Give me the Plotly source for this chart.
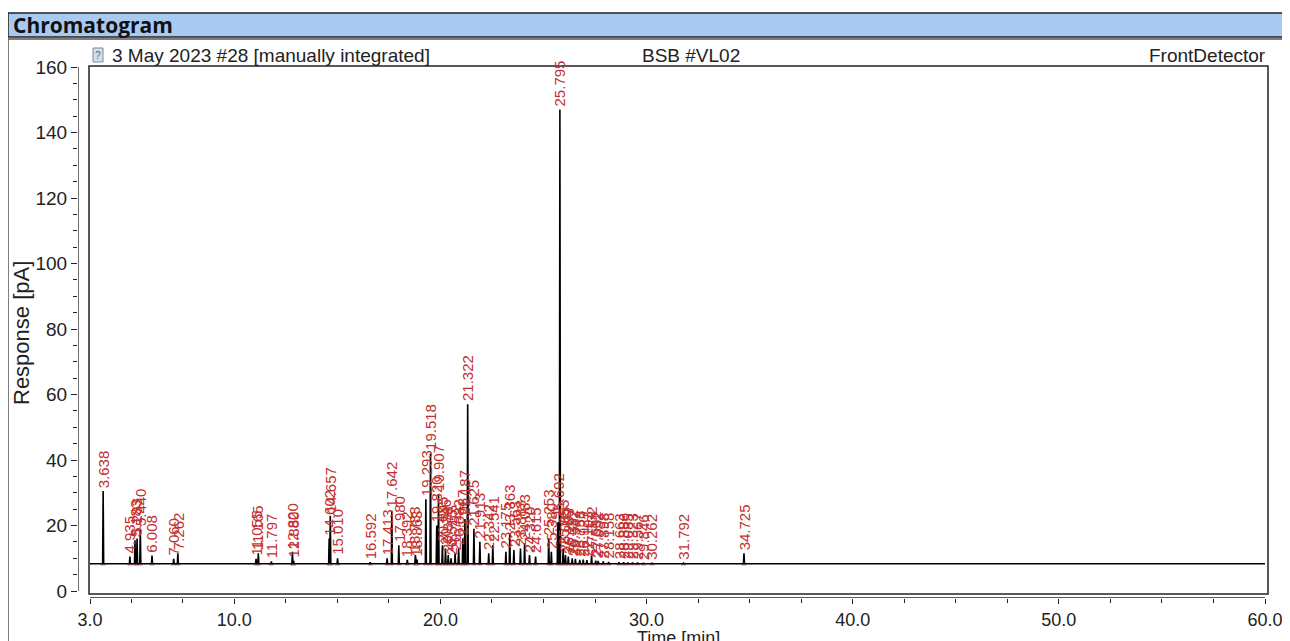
import plotly.graph_objects as go

# ---------------- data ----------------
peak_times = [3.638, 4.935, 5.183, 5.283, 5.440, 6.008, 7.060, 7.262,
              11.055, 11.165, 11.797, 12.820, 12.880, 14.602, 14.657, 15.010,
              16.592, 17.413, 17.642, 17.980, 18.392, 18.783, 18.863,
              19.293, 19.518, 19.820, 19.907, 20.095, 20.246, 20.378, 20.515,
              20.712, 20.882, 21.087, 21.187, 21.322, 21.625, 21.913,
              22.342, 22.541, 23.175, 23.363, 23.563, 23.883, 24.083, 24.320,
              24.615, 25.253, 25.380, 25.692, 25.795, 25.953, 26.065, 26.203,
              26.392, 26.547, 26.758, 26.927, 27.103, 27.332, 27.532, 27.652,
              27.898, 28.158, 28.663, 28.886, 29.085, 29.323, 29.567, 29.846,
              30.262, 31.792, 34.725]
peak_heights = [30.5, 10.5, 15.5, 16.0, 19.0, 10.8, 9.8, 11.5,
                9.8, 11.5, 9.0, 12.0, 9.2, 16.0, 23.0, 10.0,
                8.8, 10.0, 24.5, 14.0, 9.5, 11.0, 9.6,
                28.0, 42.0, 20.0, 29.5, 14.0, 13.0, 11.0, 10.0,
                11.5, 13.0, 16.0, 22.0, 57.0, 19.0, 15.0,
                11.5, 14.0, 12.0, 17.5, 12.5, 13.0, 14.5, 11.0,
                10.5, 16.0, 12.0, 21.0, 147.0, 13.0, 11.0, 10.5,
                10.0, 9.8, 9.5, 9.6, 9.4, 10.8, 9.3, 9.2,
                9.0, 8.9, 8.8, 8.8, 8.7, 8.7, 8.7, 8.6,
                8.6, 8.5, 11.5]
peak_labels = [f"{t:.3f}" for t in peak_times]
baseline_level = 8.3
time_start, time_end = 3.0, 60.0
resp_min, resp_max = 0.0, 160.0

x_tick_vals = [3.0, 10.0, 20.0, 30.0, 40.0, 50.0, 60.0]
x_tick_text = ["3.0", "10.0", "20.0", "30.0", "40.0", "50.0", "60.0"]
x_minor_vals = [5.0, 7.5, 12.5, 15.0, 17.5, 22.5, 25.0, 27.5, 32.5, 35.0, 37.5,
                42.5, 45.0, 47.5, 52.5, 55.0, 57.5]
y_tick_vals = [0, 20, 40, 60, 80, 100, 120, 140, 160]
y_minor_vals = [v for v in range(0, 161, 5) if v % 20 != 0]

header_left = "3 May 2023 #28 [manually integrated]"
header_mid = "BSB #VL02"
header_right = "FrontDetector"
panel_title = "Chromatogram"

# ---------------- build the signal from the peak table ----------------
W, H = 1290, 641
OFF = 8  # the page's default body margin shifts the figure by this much
half_w = 0.025
sig_x = [time_start]
sig_y = [baseline_level]
red_x, red_y = [], []
for t, h in zip(peak_times, peak_heights):
    sig_x += [t - half_w, t, t + half_w]
    sig_y += [baseline_level, h, baseline_level]
    red_x += [t - 0.12, t + 0.12, None]
    red_y += [baseline_level - 0.3, baseline_level - 0.3, None]
sig_x.append(time_end)
sig_y.append(baseline_level)

def px(xp):
    return (xp - OFF) / W

def py(yp):
    return 1 - (yp - OFF) / H

# page-pixel layout of the plotting box
X_AXIS_AT = 598      # pixel row of the time axis line
Y_AXIS_AT = 78       # pixel column of the response axis line
X3_AT, X60_AT = 90, 1265
Y0_AT, Y160_AT = 591, 67
ppm = (X60_AT - X3_AT) / (time_end - time_start)
ppp = (Y0_AT - Y160_AT) / (resp_max - resp_min)
x_lo = time_start - (X3_AT - Y_AXIS_AT) / ppm
y_lo = resp_min - (X_AXIS_AT - Y0_AT) / ppp

FONT = "Liberation Sans, Arial, sans-serif"
RED = "#c42f2f"
TXT = "#222"

fig = go.Figure()
fig.add_trace(go.Scatter(x=red_x, y=red_y, mode="lines",
                         line=dict(color="#e07070", width=1.2),
                         hoverinfo="skip", showlegend=False))
fig.add_trace(go.Scatter(x=sig_x, y=sig_y, mode="lines",
                         line=dict(color="black", width=1.6),
                         showlegend=False))

annotations = []
for t, h, lab in zip(peak_times, peak_heights, peak_labels):
    annotations.append(dict(x=t, y=h, xref="x", yref="y", text=lab,
                            textangle=-90, xanchor="center", yanchor="bottom",
                            yshift=1, showarrow=False,
                            font=dict(family=FONT, size=15, color=RED)))

annotations += [
    dict(x=px(11), y=py(25), xref="paper", yref="paper", text="<b>" + panel_title + "</b>",
         xanchor="left", yanchor="middle", showarrow=False,
         font=dict(family="Open Sans, sans-serif", size=21, color="#111")),
    dict(x=px(110), y=py(55), xref="paper", yref="paper", text=header_left,
         xanchor="left", yanchor="middle", showarrow=False,
         font=dict(family=FONT, size=19, color=TXT)),
    dict(x=px(691), y=py(55), xref="paper", yref="paper", text=header_mid,
         xanchor="center", yanchor="middle", showarrow=False,
         font=dict(family=FONT, size=19, color=TXT)),
    dict(x=px(1268), y=py(55), xref="paper", yref="paper", text=header_right,
         xanchor="right", yanchor="middle", showarrow=False,
         font=dict(family=FONT, size=19, color=TXT)),
    dict(x=px(22), y=py(333), xref="paper", yref="paper", text="Response [pA]",
         textangle=-90, xanchor="center", yanchor="middle", showarrow=False,
         font=dict(family=FONT, size=22, color=TXT)),
    dict(x=px(678), y=py(638), xref="paper", yref="paper", text="Time [min]",
         xanchor="center", yanchor="middle", showarrow=False,
         font=dict(family=FONT, size=18, color=TXT)),
    dict(x=px(98), y=py(55), xref="paper", yref="paper", text="?",
         xanchor="center", yanchor="middle", showarrow=False,
         font=dict(family=FONT, size=10, color="#2a6fc0")),
]

shapes = [
    dict(type="rect", xref="paper", yref="paper", x0=px(8), x1=px(1300), y0=py(37), y1=py(13),
         fillcolor="#a8c9f0", line=dict(color="#222", width=1.5), layer="below"),
    dict(type="rect", xref="paper", yref="paper", x0=px(8), x1=px(1289), y0=py(660), y1=py(39),
         line=dict(color="#555", width=1.5), layer="below"),
    dict(type="rect", xref="paper", yref="paper", x0=px(89), x1=px(1268), y0=py(594), y1=py(66),
         line=dict(color="#222", width=1.5), layer="below"),
    dict(type="rect", xref="paper", yref="paper", x0=px(93), x1=px(103), y0=py(62), y1=py(48),
         fillcolor="#d7dee6", line=dict(color="#7d8a96", width=1), layer="above"),
    dict(type="line", xref="x", yref="y", x0=time_start, x1=time_end, y0=y_lo, y1=y_lo,
         line=dict(color=TXT, width=1.3)),
    dict(type="line", xref="x", yref="y", x0=x_lo, x1=x_lo, y0=resp_min, y1=resp_max,
         line=dict(color=TXT, width=1.3)),
]

fig.update_layout(
    template="none",
    width=W, height=H,
    margin=dict(l=0, r=0, t=0, b=0, pad=0, autoexpand=False),
    paper_bgcolor="white", plot_bgcolor="rgba(0,0,0,0)",
    showlegend=False,
    annotations=annotations,
    shapes=shapes,
    xaxis=dict(domain=[px(Y_AXIS_AT), px(X60_AT)], range=[x_lo, time_end],
               automargin=False, showline=False,
               showgrid=False, zeroline=False,
               tickmode="array", tickvals=x_tick_vals, ticktext=x_tick_text,
               ticks="outside", ticklen=5, tickcolor=TXT, tickwidth=1.2,
               tickfont=dict(family=FONT, size=18, color=TXT),
               minor=dict(tickmode="array", tickvals=x_minor_vals, ticks="outside",
                          ticklen=4, tickcolor=TXT, tickwidth=1, showgrid=False)),
    yaxis=dict(domain=[py(X_AXIS_AT), py(Y160_AT)], range=[y_lo, resp_max],
               automargin=False, showline=False,
               showgrid=False, zeroline=False,
               tickmode="array", tickvals=y_tick_vals,
               ticks="outside", ticklen=6, tickcolor=TXT, tickwidth=1.2,
               tickfont=dict(family=FONT, size=19, color=TXT),
               minor=dict(tickmode="array", tickvals=y_minor_vals, ticks="outside",
                          ticklen=4, tickcolor=TXT, tickwidth=1, showgrid=False)),
)

fig.write_html("out.html")
